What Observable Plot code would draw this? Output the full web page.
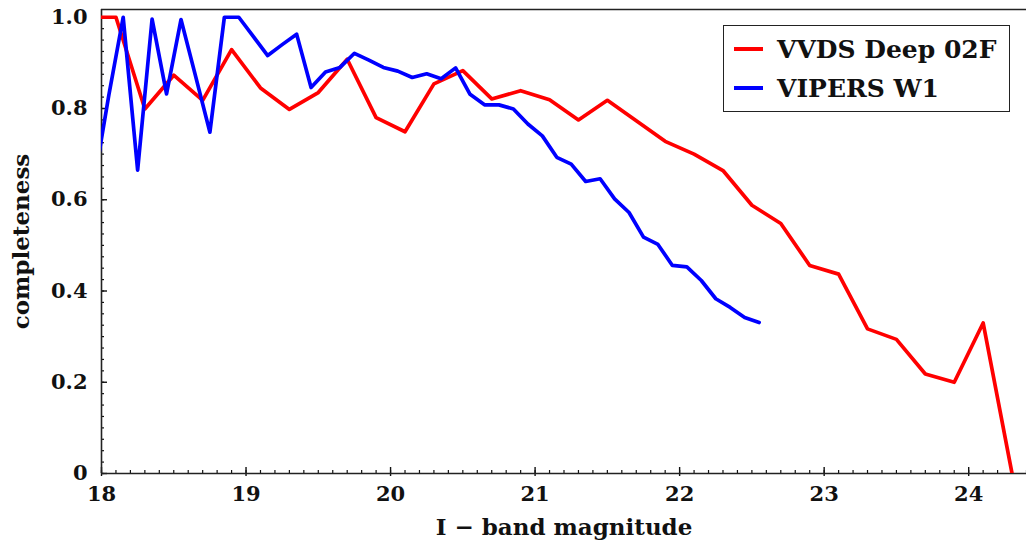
<!DOCTYPE html>
<html><head><meta charset="utf-8">
<script src="https://cdn.jsdelivr.net/npm/d3@7"></script>
<script src="https://cdn.jsdelivr.net/npm/@observablehq/plot@0.6"></script>
<style>
body{margin:0;background:#fff;}
#wrap{position:relative;width:1026px;height:541px;overflow:hidden;}
#legend{position:absolute;left:723px;top:25px;width:287px;height:87px;border:1.5px solid #222;background:#fff;font-family:"DejaVu Serif";font-weight:bold;font-size:25px;box-sizing:border-box;color:#111;}
.row{position:absolute;left:0;display:flex;align-items:center;height:30px;white-space:nowrap;}
.sw{display:inline-block;width:29px;height:3.5px;margin-left:10px;margin-right:14px;}
</style></head>
<body><div id="wrap"><div id="chart"></div><div id="legend"></div></div>
<script>
// VVDS Deep 02F (red)
const magVVDS  = [17.9, 18.1, 18.3, 18.5, 18.7, 18.9, 19.1, 19.3, 19.5, 19.7, 19.9, 20.1, 20.3, 20.5, 20.7, 20.9, 21.1, 21.3, 21.5, 21.7, 21.9, 22.1, 22.3, 22.5, 22.7, 22.9, 23.1, 23.3, 23.5, 23.7, 23.9, 24.1, 24.3];
const compVVDS = [1.0, 1.0, 0.799, 0.873, 0.818, 0.929, 0.845, 0.798, 0.835, 0.908, 0.78, 0.749, 0.854, 0.883, 0.821, 0.839, 0.819, 0.775, 0.818, 0.773, 0.728, 0.70, 0.664, 0.588, 0.548, 0.456, 0.437, 0.317, 0.294, 0.218, 0.200, 0.330, 0.0];
// VIPERS W1 (blue)
const magVIPERS  = [17.95, 18.05, 18.15, 18.25, 18.35, 18.45, 18.55, 18.65, 18.75, 18.85, 18.95, 19.05, 19.15, 19.25, 19.35, 19.45, 19.55, 19.65, 19.75, 19.85, 19.95, 20.05, 20.15, 20.25, 20.35, 20.45, 20.55, 20.65, 20.75, 20.85, 20.95, 21.05, 21.15, 21.25, 21.35, 21.45, 21.55, 21.65, 21.75, 21.85, 21.95, 22.05, 22.15, 22.25, 22.35, 22.45, 22.55];
const compVIPERS = [0.64, 0.828, 1.0, 0.665, 0.996, 0.832, 0.995, 0.872, 0.748, 1.0, 1.0, 0.958, 0.916, 0.94, 0.963, 0.846, 0.880, 0.890, 0.921, 0.906, 0.890, 0.882, 0.868, 0.876, 0.865, 0.889, 0.831, 0.808, 0.808, 0.799, 0.766, 0.740, 0.693, 0.678, 0.640, 0.646, 0.602, 0.572, 0.518, 0.502, 0.456, 0.453, 0.423, 0.383, 0.364, 0.342, 0.331];

const seriesNames  = ["VVDS Deep 02F", "VIPERS W1"];
const seriesColors = ["#ff0000", "#0000ff"];

const xMajor = [18, 19, 20, 21, 22, 23, 24];
const xMinor = d3.range(180, 245).map(d => d / 10);
const yMajor = [0, 0.2, 0.4, 0.6, 0.8, 1.0];
const yMinor = d3.range(0, 41).map(d => d * 0.025);
const xDomain = [18, 24.4];
const yDomain = [0, 1.017];
const xTitle = "I \u2212 band magnitude";
const yTitle = "completeness";

const vvds = magVVDS.map((m, i) => ({mag: m, comp: compVVDS[i]}));
const vipers = magVIPERS.map((m, i) => ({mag: m, comp: compVIPERS[i]}));

const font = "DejaVu Serif";
const chart = Plot.plot({
  width: 1026, height: 541,
  marginLeft: 101, marginRight: 0, marginTop: 9, marginBottom: 68,
  x: {domain: xDomain, label: null},
  y: {domain: yDomain, label: null},
  style: {fontFamily: font, fontSize: "21px", fontWeight: "bold", color: "#111", background: "#fff", overflow: "visible"},
  marks: [
    Plot.axisX(xMinor, {tickSize: -3, text: null, label: null, strokeWidth: 1.2}),
    Plot.axisX(xMajor, {tickSize: -6, text: null, label: null, strokeWidth: 1.4}),
    Plot.axisX(xMajor, {tickSize: 3, tickPadding: 10, label: null, strokeWidth: 1.4, tickFormat: d => String(d), fontSize: 21}),
    Plot.axisY(yMinor, {tickSize: -3, text: null, label: null, strokeWidth: 1.2}),
    Plot.axisY(yMajor, {tickSize: -6, text: null, label: null, strokeWidth: 1.4}),
    Plot.axisY(yMajor, {tickSize: 0, tickPadding: 14, label: null, tickFormat: d => d === 0 ? "0" : d.toFixed(1), fontSize: 21}),
    Plot.ruleY([yDomain[0], yDomain[1]], {stroke: "#222", strokeWidth: 1.6}),
    Plot.ruleX([xDomain[0]], {stroke: "#222", strokeWidth: 1.6}),
    Plot.line(vvds, {x: "mag", y: "comp", stroke: seriesColors[0], strokeWidth: 3.7, clip: true}),
    Plot.line(vipers, {x: "mag", y: "comp", stroke: seriesColors[1], strokeWidth: 3.7, clip: true}),
    Plot.text([xTitle], {frameAnchor: "bottom", dy: 54, lineAnchor: "middle", fontSize: 23, fontWeight: "bold", fill: "#111"}),
    Plot.text([yTitle], {frameAnchor: "left", dx: -80, rotate: -90, textAnchor: "middle", lineAnchor: "middle", fontSize: 23, fontWeight: "bold", fill: "#111"})
  ]
});
document.getElementById("chart").appendChild(chart);

const legend = document.getElementById("legend");
seriesNames.forEach((name, i) => {
  const row = document.createElement("div");
  row.className = "row";
  row.style.top = (8 + i * 39) + "px";
  const sw = document.createElement("span");
  sw.className = "sw";
  sw.style.background = seriesColors[i];
  const tx = document.createElement("span");
  tx.textContent = name;
  row.appendChild(sw); row.appendChild(tx);
  legend.appendChild(row);
});
</script>
</body></html>
